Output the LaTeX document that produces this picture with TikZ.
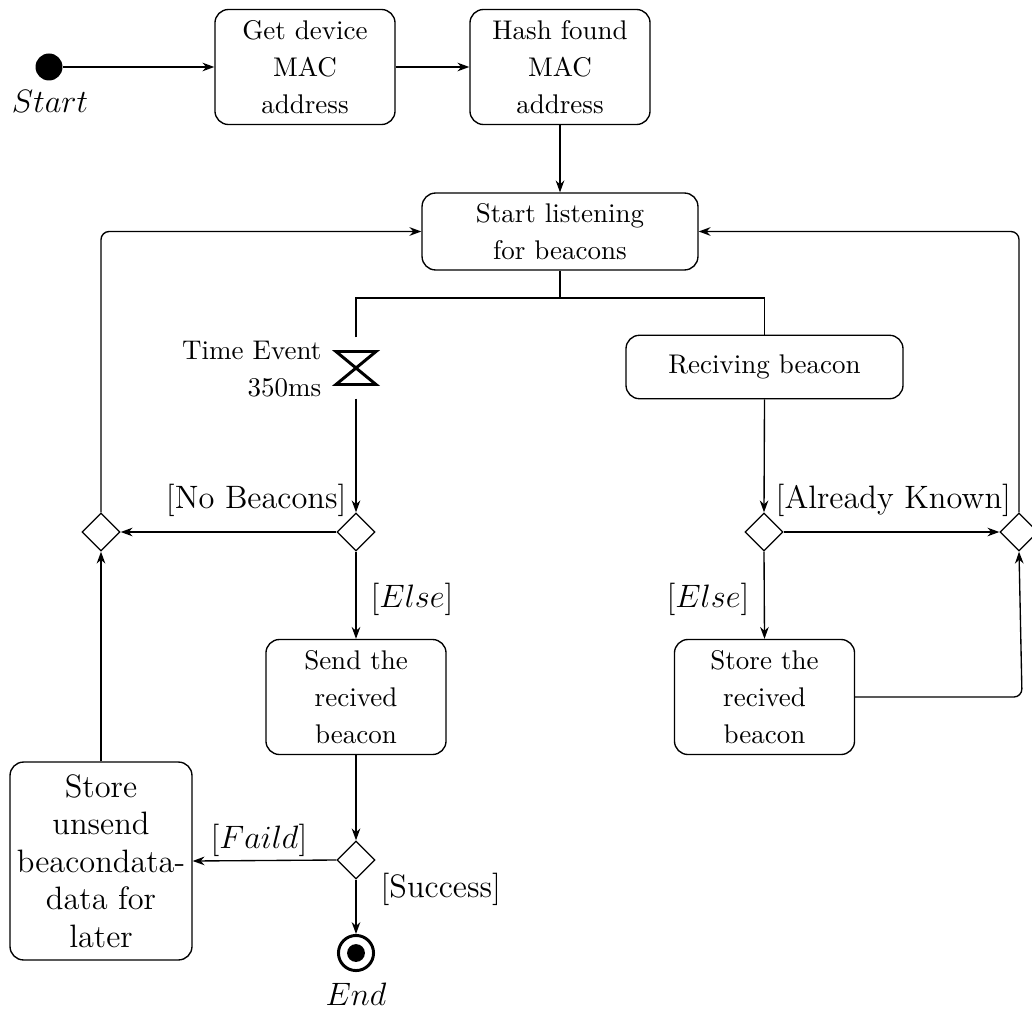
\documentclass[tikz,border=0pt]{standalone}
\usetikzlibrary{arrows.meta,shapes.geometric}
\newcommand\boxfont{\fontsize{10}{13.7}\selectfont}
\newcommand\bigfont{\fontsize{12}{13.9}\selectfont}
\begin{document}
\begin{tikzpicture}[x=0.3704pt,y=-0.3704pt,
  line width=0.5pt,
  flow/.style={-{Stealth[length=4.4pt,width=3.2pt]}},
  action/.style={draw,rounded corners=5pt,align=center,inner sep=0pt,font=\boxfont},
  stdbox/.style={action,minimum width=66.7pt,minimum height=42.6pt},
  choice/.style={draw,diamond,aspect=1,inner sep=0pt,minimum width=14.1pt,minimum height=14.1pt},
  guard/.style={font=\bigfont,inner sep=0pt},
  softturn/.style={rounded corners=3pt}]
\useasboundingbox (0,0) rectangle (1032,1012);

% initial and final states
\node[circle,fill=black,inner sep=0pt,minimum size=10pt] (start) at (49,67) {};
\node[guard,anchor=base] (startlbl) at (50,113) {$Start$};
\node[circle,draw,line width=1.1pt,inner sep=0pt,minimum size=13pt,
      path picture={\fill (path picture bounding box.center) circle (3.3pt);}] (endn) at (356,953) {};
\node[guard,anchor=base] (endlbl) at (356,1005) {$End$};

% actions
\node[stdbox] (getmac) at (305,67) {Get device\\MAC\\address};
\node[stdbox] (hash) at (560,67) {Hash found\\MAC\\address};
\node[action,minimum width=102.2pt,minimum height=28.5pt] (listen) at (560,231.5) {Start listening\\for beacons};
\node[action,minimum width=102.6pt,minimum height=23.5pt] (recv) at (764.5,367) {Reciving beacon};
\node[stdbox] (send) at (356,697) {Send the\\recived\\beacon};
\node[stdbox] (storerecv) at (764.5,697) {Store the\\recived\\beacon};
\node[action,font=\bigfont,minimum width=67.4pt,minimum height=73.3pt] (unsend) at (101,861) {Store\\unsend\\beacondata-\\data for\\later};

% time event
\node[inner sep=0pt,minimum width=14.8pt,minimum height=22.2pt] (timer) at (356,368) {};
\draw[line width=1.1pt,line join=miter,shift={(timer.center)}]
  (-20,-16.5) -- (20,-16.5) -- (-20,16.5) -- (20,16.5) -- cycle;
\node[align=right,font=\boxfont,inner sep=0pt,anchor=base east] (timelbl) at (322,396) {Time Event\\350ms};

% decisions
\node[choice] (d1) at (356,532) {};
\node[choice] (dL) at (101,532) {};
\node[choice] (d3) at (356,860) {};
\node[choice] (dR1) at (764,532) {};
\node[choice] (dR2) at (1019,532) {};

% connectors
\draw[flow] (start) -- (getmac);
\draw[flow] (getmac) -- (hash);
\draw[flow] (hash) -- (listen);
\coordinate (fork) at (560,298);
\draw (listen.south) -- (fork);
\draw (timer.north) |- (fork) -| (recv.north);
\draw[flow] (timer.south) -- (d1.north);
\draw[flow] (d1.west) -- (dL.east);
\draw[flow,softturn] (dL.north) |- (listen.west);
\draw[flow] (d1.south) -- (send.north);
\draw[flow] (send.south) -- (d3.north);
\draw[flow] (d3.west) -- (unsend.east);
\draw[flow] (d3.south) -- (endn.north);
\draw[flow] (unsend.north) -- (dL.south);
\draw[flow] (recv.south) -- (dR1.north);
\draw[flow] (dR1.east) -- (dR2.west);
\draw[flow] (dR1.south) -- (storerecv.north);
\draw[flow,softturn] (dR2.north) |- (listen.east);
\coordinate (retcorner) at (1022,697);
\draw[flow,softturn] (storerecv.east) -- (retcorner) -- (dR2.south);

% guards
\node[guard,anchor=base east] (gnob) at (347,508) {[No Beacons]};
\node[guard,anchor=base west] (gknown) at (775,508) {[Already Known]};
\node[guard,anchor=base west] (gelse1) at (370,607) {[$Else$]};
\node[guard,anchor=base east] (gelse2) at (750,607) {[$Else$]};
\node[guard,anchor=base east] (gfail) at (308,848) {[$Faild$]};
\node[guard,anchor=base west] (gsucc) at (380,897) {[Success]};
\end{tikzpicture}
\end{document}
